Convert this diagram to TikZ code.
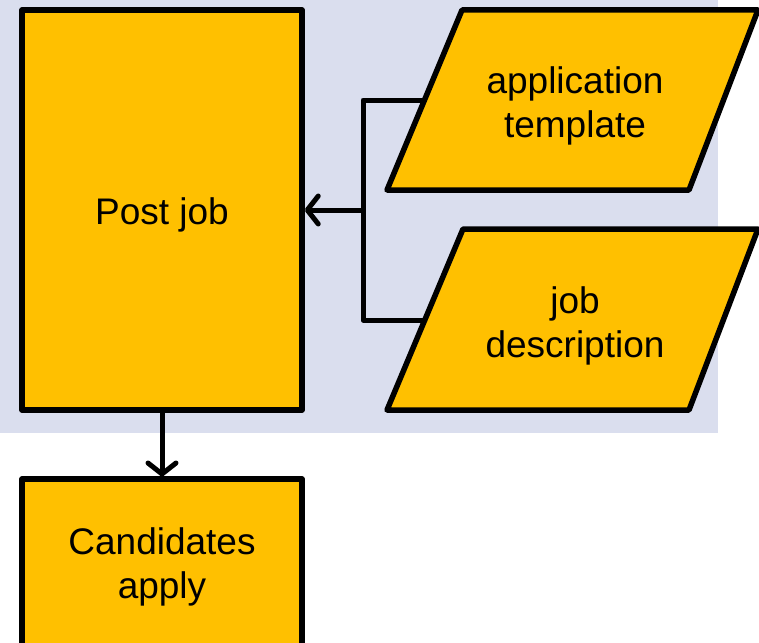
\documentclass[tikz,border=0pt]{standalone}
\usepackage{fontspec}
\setmainfont{Liberation Sans}
\usetikzlibrary{arrows.meta}
\definecolor{bgblue}{RGB}{218,222,238}
\definecolor{gold}{RGB}{255,192,0}
\begin{document}
\begin{tikzpicture}[x=1pt,y=-1pt,
  shapebox/.style={draw=black, fill=gold, line width=5.5pt, line join=round},
  lbl/.style={font=\fontsize{37}{44}\selectfont, align=center, inner sep=0pt},
  conn/.style={line width=5pt, line join=round},
  arr/.style={conn, -{Straight Barb[length=11pt,width=28pt,round]}}]
\useasboundingbox (0,0) rectangle (759,642);
\clip (0,0) rectangle (759,642);
\fill[bgblue] (0,0) rectangle (718,433);
% Post job box
\node[shapebox, minimum width=280pt, minimum height=400pt, inner sep=0pt] (post) at (162,210) {};
\node[lbl] (postlbl) at (162,215) {Post job};
% Candidates apply box (runs past the bottom edge)
\node[shapebox, minimum width=280pt, minimum height=240pt, inner sep=0pt, anchor=north, outer sep=0pt] (cand) at (162,479) {};
\node[lbl] (candlbl) at (162,567) {Candidates\\apply};
% parallelograms
\draw[shapebox] (387,190) -- (462,10) -- (758,10) -- (689,190) -- cycle;
\node[lbl] (app) at (575,106) {application\\template};
\draw[shapebox] (387,410) -- (463,229) -- (758,229) -- (689,410) -- cycle;
\node[lbl] (jd) at (575,326) {job\\description};
% connector points
\coordinate (atin) at (424.5,100);
\coordinate (jdin) at (425,320);
\coordinate (junc) at (363,210);
\draw[conn] (atin) -| (junc) |- (jdin);
\draw[arr] (junc) -- (post.east);
\draw[arr] (post.south) -- ([yshift=2.5pt]cand.north);
\end{tikzpicture}
\end{document}
